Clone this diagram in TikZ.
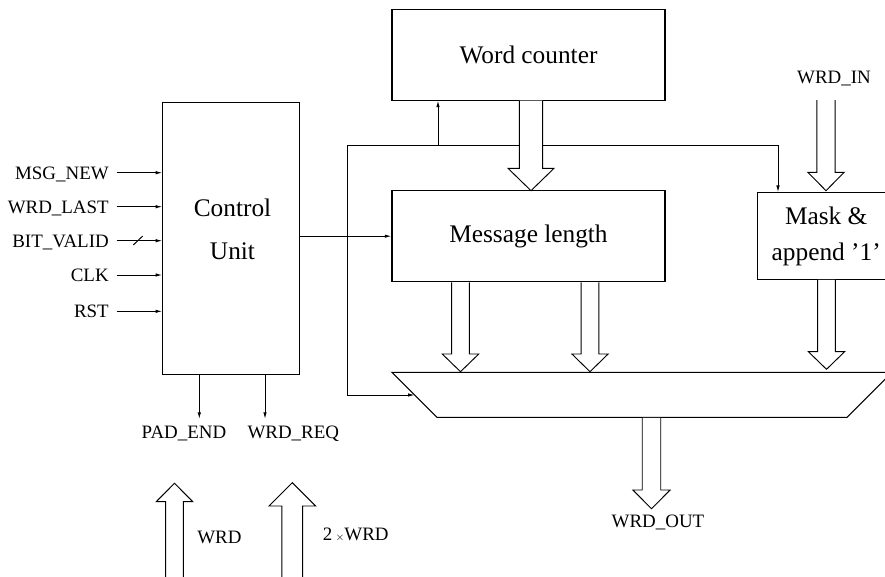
\documentclass[tikz,border=0pt]{standalone}
\usepackage{fontspec}
\setmainfont{Liberation Serif}
\usetikzlibrary{arrows.meta}

\tikzset{
  sig/.style={line width=0.7pt,-{Latex[length=5pt,width=2.6pt]}},
  wire/.style={line width=0.7pt},
  blk/.style={draw,line width=0.8pt,inner sep=0pt},
  bus/.style={draw,fill=white,line width=0.7pt,line join=miter},
  big/.style={font=\fontsize{19}{23}\selectfont},
  lbl/.style={font=\fontsize{14.2}{17}\selectfont,inner sep=0.75pt,text height=9.5pt,text depth=0pt},
}
% hollow bus arrow: x, y start, y head base, y tip, half shaft, half head
\newcommand{\busarrow}[6]{\draw[bus] ({#1-#5},#2) -- ({#1-#5},#3) -- ({#1-#6},#3) -- (#1,#4) -- ({#1+#6},#3) -- ({#1+#5},#3) -- ({#1+#5},#2);}

\begin{document}
\begin{tikzpicture}[x=0.75pt,y=0.75pt,yscale=-1,xscale=1]
\useasboundingbox (0,0) rectangle (885,576);
\clip (0,0) rectangle (885,576);

%Shape: Rectangle
\node[blk,big,minimum width=204.75pt,minimum height=68pt] (wc) at (528.5,54.7) {Word counter};
%Shape: Rectangle
\node[blk,big,minimum width=204.75pt,minimum height=68.25pt] (ml) at (528.5,236.2) {Message length};
%Shape: Rectangle
\node[blk,minimum width=102.2pt,minimum height=203.5pt] (cu) at (230.9,238.4) {};
%Shape: Rectangle
\node[blk,font=\fontsize{19}{27}\selectfont,align=center,minimum width=103.3pt,minimum height=65pt] (mask) at (826.2,236) {Mask \&\\append '1'};
%Shape: Trapezoid
\draw[line width=0.8pt] (392,372.3) -- (892,372.3) -- (847,417.3) -- (437,417.3) -- cycle;

% Text Node
\node[font=\fontsize{19}{32.5}\selectfont,align=center,inner sep=0pt] (cutxt) at (232.5,229) {Control\\Unit};

% Text Node
\node[lbl,anchor=east] (msgnew) at (110,172.7) {MSG\_NEW};
% Text Node
\node[lbl,anchor=east] (wrdlast) at (110,206.7) {WRD\_LAST};
% Text Node
\node[lbl,anchor=east] (bitvalid) at (110,240.7) {BIT\_VALID};
% Text Node
\node[lbl,anchor=east] (clk) at (110,275) {CLK};
% Text Node
\node[lbl,anchor=east] (rst) at (110,311.3) {RST};
% Text Node
\node[lbl] (padend) at (184,432) {PAD\_END};
% Text Node
\node[lbl] (wrdreq) at (293.3,432) {WRD\_REQ};
% Text Node
\node[lbl] (wrdin) at (834,76.7) {WRD\_IN};
% Text Node
\node[lbl] (wrdout) at (658,521) {WRD\_OUT};
% Text Node
\node[lbl,anchor=west] (wrd) at (196,537) {WRD};
% Text Node
\node[lbl,anchor=west] (wrdtwo) at (321.7,534.4) {2\,{\fontsize{8}{8}\selectfont$\times$}WRD};

%Straight Lines
\draw[sig] ([xshift=5pt]msgnew.east) -- (msgnew -| cu.west);
\draw[sig] ([xshift=5pt]wrdlast.east) -- (wrdlast -| cu.west);
\draw[sig] ([xshift=5pt]bitvalid.east) -- (bitvalid -| cu.west);
\draw[wire] (133.3,245) -- (142.7,236);
\draw[sig] ([xshift=5pt]clk.east) -- (clk -| cu.west);
\draw[sig] ([xshift=5pt]rst.east) -- (rst -| cu.west);

%Straight Lines
\coordinate (padout) at (199.3,419);
\coordinate (reqout) at (265,419);
\draw[sig] (padout |- cu.south) -- (padout);
\draw[sig] (reqout |- cu.south) -- (reqout);
\draw[sig] (cu.east |- ml.west) -- (ml.west);

%Straight Lines
\coordinate (fbk) at (347,145.7);
\coordinate (wcin) at (438,145.7);
\coordinate (mkin) at (778,145.7);
\coordinate (muxsel) at (414.7,395);
\draw[sig] (fbk) -- (fbk |- muxsel) -- (muxsel);
\draw[sig] (fbk) -- (mkin) -- (mkin |- mask.north);
\draw[sig] (wcin) -- (wcin |- wc.south);

%Shape: Bus arrows
\busarrow{531}{100.6}{168.3}{190.7}{11.55}{23}
\busarrow{826}{100}{172.3}{190.7}{9.2}{18.1}
\busarrow{460.5}{282.3}{354}{371.7}{8.9}{18.25}
\busarrow{590}{282.3}{354}{371.7}{8.9}{18.1}
\busarrow{826.5}{279.9}{351.7}{369.3}{8.85}{18.1}
\busarrow{651.5}{417.9}{490}{508.7}{9.25}{18.6}
\busarrow{174.5}{580}{501.7}{483.3}{8.8}{18.3}
\busarrow{292.3}{580}{506}{482.7}{10.35}{23.35}

\end{tikzpicture}
\end{document}
